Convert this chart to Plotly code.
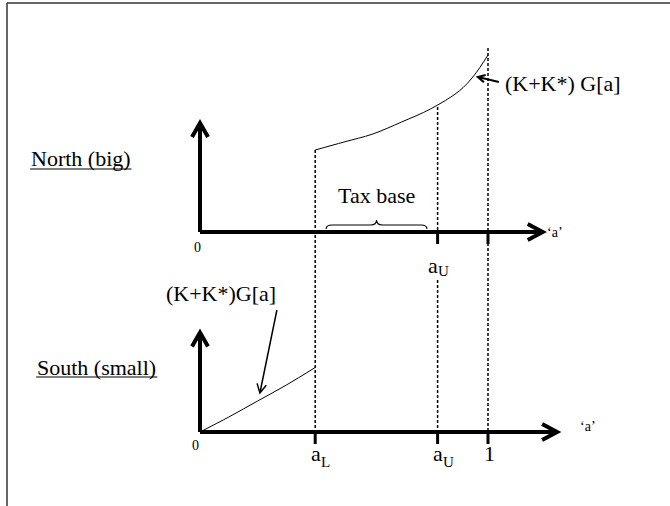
import math
import plotly.graph_objects as go

# ---------------- data (schematic values) ----------------
a_L = 0.40          # lower threshold
a_U = 0.825         # upper threshold
a_one = 1.0

# North (big): (K+K*) G[a] on [a_L, 1]
a_north = [0.40, 0.50, 0.60, 0.70, 0.80, 0.90, 0.95, 1.00]
G_north = [0.82, 0.90, 0.98, 1.10, 1.23, 1.41, 1.56, 1.77]

# South (small): (K+K*) G[a] on [0, a_L]
a_south = [0.0, 0.1, 0.2, 0.3, 0.40]
G_south = [0.0, 0.15, 0.31, 0.47, 0.645]

north_ticks = [a_U, a_one]
south_ticks = [a_L, a_U, a_one]
# tick labels: (main text, subscript)
north_tick_labels = [("a", "U"), None]
south_tick_labels = [("a", "L"), ("a", "U"), ("1", "")]

# ---------------- layout constants ----------------
SOUTH_BASE = -2.0          # vertical offset of the South panel
N_XTIP, S_XTIP = 1.19, 1.24
N_YTIP, S_YTIP = 1.09, 0.995
FONT = "Liberation Serif"
BIG = 22
SUB = 15
SMALL = 14

fig = go.Figure()

fig.add_trace(go.Scatter(x=a_north, y=G_north, mode="lines",
                         line=dict(color="black", width=1, shape="spline"),
                         hoverinfo="skip", showlegend=False))
fig.add_trace(go.Scatter(x=a_south, y=[SOUTH_BASE + g for g in G_south], mode="lines",
                         line=dict(color="black", width=1, shape="spline"),
                         hoverinfo="skip", showlegend=False))

shapes = []
axis_line = dict(color="black", width=4)

def axis_pair(base, xtip, ytip):
    shapes.append(dict(type="line", xref="x", yref="y", x0=0, y0=base, x1=xtip, y1=base,
                       line=axis_line, layer="above"))
    shapes.append(dict(type="path", xref="x", yref="y", xsizemode="pixel", ysizemode="pixel",
                       xanchor=xtip, yanchor=base, path="M -15,-8 L 0,0 L -15,8",
                       line=axis_line, layer="above"))
    shapes.append(dict(type="line", xref="x", yref="y", x0=0, y0=base, x1=0, y1=base + ytip,
                       line=axis_line, layer="above"))
    shapes.append(dict(type="path", xref="x", yref="y", xsizemode="pixel", ysizemode="pixel",
                       xanchor=0, yanchor=base + ytip, path="M -8,-14 L 0,0 L 8,-14",
                       line=axis_line, layer="above"))

axis_pair(0, N_XTIP, N_YTIP)
axis_pair(SOUTH_BASE, S_XTIP, S_YTIP)

def tick(xv, base):
    shapes.append(dict(type="path", xref="x", yref="y", xsizemode="scaled", ysizemode="pixel",
                       yanchor=base, path=f"M {xv},2 L {xv},-12",
                       line=dict(color="black", width=3), layer="above"))

for t in north_ticks:
    tick(t, 0)
for t in south_ticks:
    tick(t, SOUTH_BASE)

dash = dict(color="black", width=1.5, dash="3px,2px")
G_north_at_aU = 1.25
shapes.append(dict(type="line", xref="x", yref="y", x0=a_L, x1=a_L, y0=G_north[0], y1=SOUTH_BASE, line=dash))
shapes.append(dict(type="line", xref="x", yref="y", x0=a_U, x1=a_U, y0=G_north_at_aU, y1=0, line=dash))
shapes.append(dict(type="line", xref="x", yref="y", x0=a_U, x1=a_U, y0=-0.48, y1=SOUTH_BASE, line=dash))
shapes.append(dict(type="line", xref="x", yref="y", x0=a_one, x1=a_one, y0=1.84, y1=SOUTH_BASE, line=dash))

# curly brace over tax base
bx0, bx1, bm = 0.438, 0.788, 0.613
yb, yf, yt, d = 0.03, 0.07, 0.12, 0.02
brace = (f"M {bx0},{yb} Q {bx0},{yf} {bx0+d},{yf} L {bm-d},{yf} Q {bm},{yf} {bm},{yt} "
         f"Q {bm},{yf} {bm+d},{yf} L {bx1-d},{yf} Q {bx1},{yf} {bx1},{yb}")
shapes.append(dict(type="path", xref="x", yref="y", path=brace, line=dict(color="black", width=1.2)))

# pointer arrows (tip in data coords, tail offset in pixels, y up)
def pointer(xt, yt_, dx, dy, width, head=8):
    L = math.hypot(dx, dy)
    ux, uy = dx / L, dy / L
    pts = []
    for ang in (math.radians(28), -math.radians(28)):
        rx = ux * math.cos(ang) - uy * math.sin(ang)
        ry = ux * math.sin(ang) + uy * math.cos(ang)
        pts.append((rx * head, ry * head))
    path = (f"M {dx:.2f},{dy:.2f} L 0,0 "
            f"M {pts[0][0]:.2f},{pts[0][1]:.2f} L 0,0 L {pts[1][0]:.2f},{pts[1][1]:.2f}")
    shapes.append(dict(type="path", xref="x", yref="y", xsizemode="pixel", ysizemode="pixel",
                       xanchor=xt, yanchor=yt_, path=path,
                       line=dict(color="black", width=width)))

pointer(0.965, 1.55, 21, -5, 2.2, head=8)
pointer(0.208, SOUTH_BASE + 0.39, 17, 83, 1.5, head=10)

# underlines of the panel names
ul = dict(color="black", width=1.2)
shapes.append(dict(type="line", xref="x", yref="y", x0=-0.59, x1=-0.238, y0=0.63, y1=0.63, line=ul))
shapes.append(dict(type="line", xref="x", yref="y", x0=-0.569, x1=-0.148,
                   y0=SOUTH_BASE + 0.55, y1=SOUTH_BASE + 0.55, line=ul))

# frame (top and left)
fx = 7 / 670
fy = 1 - 3 / 506
shapes.append(dict(type="line", xref="paper", yref="paper", x0=fx, x1=1, y0=fy, y1=fy,
                   line=dict(color="#333333", width=1.5)))
shapes.append(dict(type="line", xref="paper", yref="paper", x0=fx, x1=fx, y0=0, y1=fy,
                   line=dict(color="#333333", width=1.5)))

ann = []
def text(x, y, s, size=BIG, xanchor="center", xshift=0):
    ann.append(dict(x=x, y=y, xref="x", yref="y", text=s, showarrow=False, borderpad=0,
                    xshift=xshift,
                    font=dict(family=FONT, size=size, color="black"), xanchor=xanchor, yanchor="middle"))

text(-0.59, 0.74, "North (big)", xanchor="left")
text(-0.569, SOUTH_BASE + 0.65, "South (small)", xanchor="left")
text(0.613, 0.37, "Tax base")
text(1.26, 1.49, "(K+K*) G[a]")
text(0.073, -0.61, "(K+K*)G[a]")
text(-0.01, -0.15, "0", size=SMALL)
text(-0.015, SOUTH_BASE - 0.13, "0", size=SMALL)
text(1.233, 0.0, "‘a’", size=SMALL)
text(1.347, SOUTH_BASE + 0.06, "‘a’", size=SMALL)

def sub_label(xb, y_main, y_sub, main, sub):
    if sub:
        text(xb, y_main, main, xanchor="right", xshift=1)
        text(xb, y_sub, sub, size=SUB, xanchor="left", xshift=-1)
    else:
        text(xb, y_main, main)

for t, lab in zip(north_ticks, north_tick_labels):
    if lab:
        sub_label(t, -0.33, -0.39, *lab)
for t, lab in zip(south_ticks, south_tick_labels):
    off = 0.019 if lab[1] else 0.004
    sub_label(t + off, SOUTH_BASE - 0.21, SOUTH_BASE - 0.30, *lab)

fig.update_layout(
    width=670, height=506,
    margin=dict(l=0, r=0, t=0, b=0),
    paper_bgcolor="white", plot_bgcolor="white",
    xaxis=dict(range=[-200 / 288, 470 / 288], visible=False, domain=[0, 1]),
    yaxis=dict(range=[-2.74, 2.32], visible=False, domain=[0, 1]),
    shapes=shapes, annotations=ann,
    showlegend=False,
)

fig.write_html("out.html", config={"displayModeBar": False},
               post_script="document.body.style.margin='0';")
